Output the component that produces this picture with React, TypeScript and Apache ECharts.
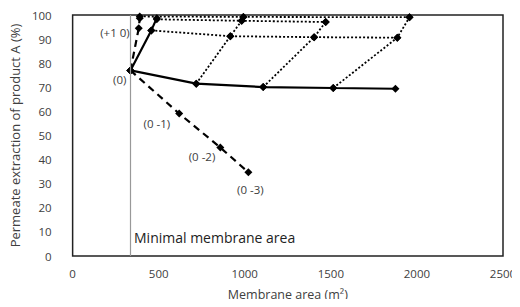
import React, { useEffect, useRef } from "react";
import * as echarts from "echarts";

const xTicks = [0, 500, 1000, 1500, 2000, 2500];
const yTicks = [0, 10, 20, 30, 40, 50, 60, 70, 80, 90, 100];
const minimalArea = 333;

// base configuration (0) and its neighbours
const solidMain = [[336, 77], [718, 71.5], [1107, 70.1], [1514, 69.7], [1875, 69.4]];
const solidUp = [[336, 77], [457, 93.6], [489, 98.7]];
const dashedUp = [[336, 77], [384, 94.5], [390, 98.7]];
const dashedDown = [[336, 77], [619, 59.1], [858, 45], [1021, 34.7]];
const dotRow1 = [[457, 93.6], [916, 91.2], [1403, 90.8], [1886, 90.6]];
const dotRow2 = [[489, 98.2], [982, 97.6], [1470, 97.1]];
const dotRow3 = [[390, 99.4], [992, 99.2], [1957, 99.1]];
const dotCol1 = [[718, 71.5], [916, 91.2], [982, 97.6], [992, 99.2]];
const dotCol2 = [[1107, 70.1], [1403, 90.8], [1470, 97.1]];
const dotCol3 = [[1514, 69.7], [1886, 90.6], [1957, 99.1]];

const pointLabels = [
  { series: "dashedUp", index: 1, text: "(+1 0)", position: "left", offset: [0, 4] },
  { series: "solidMain", index: 0, text: "(0)", position: "left", offset: [5, 9] },
  { series: "dashedDown", index: 1, text: "(0 -1)", position: "left", offset: [0, 10] },
  { series: "dashedDown", index: 2, text: "(0 -2)", position: "left", offset: [4, 9] },
  { series: "dashedDown", index: 3, text: "(0 -3)", position: "bottom", offset: [2, 2] },
];

const FONT = "'Open Sans', 'Noto Sans', sans-serif";
const TEXT = "#404040";

function withLabels(name: string, data: number[][]) {
  return data.map((d, i) => {
    const l = pointLabels.find((p) => p.series === name && p.index === i);
    if (!l) return d;
    return {
      value: d,
      label: {
        show: true,
        formatter: l.text,
        position: l.position,
        offset: l.offset,
        color: TEXT,
        fontSize: 11.5,
        fontFamily: FONT,
      },
    };
  });
}

function lineSeries(name: string, data: number[][], type: string, z = 3) {
  return {
    name,
    type: "line",
    data: withLabels(name, data),
    symbol: "diamond",
    symbolSize: 8,
    itemStyle: { color: "#000" },
    lineStyle: {
      color: "#000",
      width: type === "solid" ? 2.2 : type === "dashed" ? 2.2 : 1.8,
      type: type === "solid" ? "solid" : type === "dashed" ? [7, 5] : [2, 2],
    },
    z,
  };
}

export default function App() {
  const ref = useRef<HTMLDivElement>(null);
  useEffect(() => {
    if (!ref.current) return;
    const chart = echarts.init(ref.current, undefined, { renderer: "svg" });
    chart.setOption({
      animation: false,
      grid: {
        left: 67,
        right: 17,
        top: 15,
        bottom: 51,
        show: true,
        borderColor: "#222",
        borderWidth: 1.5,
      },
      xAxis: {
        type: "value",
        min: xTicks[0],
        max: xTicks[xTicks.length - 1],
        interval: 500,
        name: "Membrane area (m²)",
        nameLocation: "middle",
        nameGap: 32,
        nameTextStyle: { color: TEXT, fontSize: 12.5, fontFamily: FONT },
        axisLine: { show: false },
        axisTick: { show: false },
        splitLine: { show: false },
        axisLabel: {
          color: TEXT,
          fontSize: 11.5,
          fontFamily: FONT,
          margin: 11,
          formatter: (v: number) => String(v),
        },
      },
      yAxis: {
        type: "value",
        min: yTicks[0],
        max: yTicks[yTicks.length - 1],
        interval: 10,
        name: "Permeate extraction of product A (%)",
        nameLocation: "middle",
        nameGap: 33,
        nameTextStyle: { color: TEXT, fontSize: 13, fontFamily: FONT },
        axisLine: { show: false },
        axisTick: { show: false },
        splitLine: { show: false },
        axisLabel: { color: TEXT, fontSize: 11.5, fontFamily: FONT, margin: 21 },
      },
      graphic: [
        {
          type: "text",
          left: 134,
          top: 230,
          style: {
            text: "Minimal membrane area",
            fill: "#222",
            fontSize: 14,
            fontFamily: FONT,
          },
        },
      ],
      series: [
        {
          type: "line",
          data: [],
          markLine: {
            silent: true,
            symbol: "none",
            label: { show: false },
            lineStyle: { color: "#999", width: 1.2, type: "solid" },
            data: [{ xAxis: minimalArea }],
          },
          z: 1,
        },
        lineSeries("dotRow1", dotRow1, "dotted", 2),
        lineSeries("dotRow2", dotRow2, "dotted", 2),
        lineSeries("dotRow3", dotRow3, "dotted", 2),
        lineSeries("dotCol1", dotCol1, "dotted", 2),
        lineSeries("dotCol2", dotCol2, "dotted", 2),
        lineSeries("dotCol3", dotCol3, "dotted", 2),
        lineSeries("solidMain", solidMain, "solid"),
        lineSeries("solidUp", solidUp, "solid"),
        lineSeries("dashedUp", dashedUp, "dashed"),
        lineSeries("dashedDown", dashedDown, "dashed"),
      ],
    });
    return () => chart.dispose();
  }, []);
  return <div ref={ref} style={{ width: 520, height: 307, margin: -8, background: "#fff" }} />;
}
